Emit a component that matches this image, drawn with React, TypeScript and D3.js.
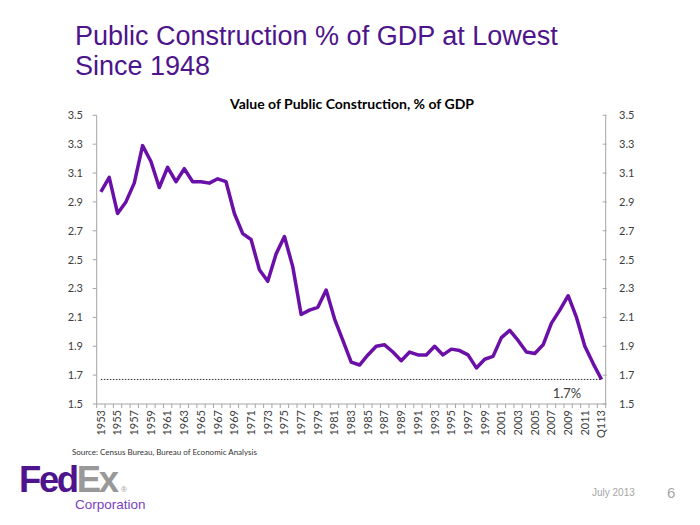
import React from "react";
import * as d3 from "d3";

const categories: string[] = [
  "1953","1954","1955","1956","1957","1958","1959","1960","1961","1962",
  "1963","1964","1965","1966","1967","1968","1969","1970","1971","1972",
  "1973","1974","1975","1976","1977","1978","1979","1980","1981","1982",
  "1983","1984","1985","1986","1987","1988","1989","1990","1991","1992",
  "1993","1994","1995","1996","1997","1998","1999","2000","2001","2002",
  "2003","2004","2005","2006","2007","2008","2009","2010","2011","2012","Q113",
];

const values: number[] = [
  2.97, 3.07, 2.82, 2.90, 3.03, 3.29, 3.18, 3.00, 3.14, 3.04,
  3.13, 3.04, 3.04, 3.03, 3.06, 3.04, 2.82, 2.68, 2.64, 2.43,
  2.35, 2.54, 2.66, 2.45, 2.12, 2.15, 2.17, 2.29, 2.09, 1.94,
  1.79, 1.77, 1.84, 1.90, 1.91, 1.86, 1.80, 1.86, 1.84, 1.84,
  1.90, 1.84, 1.88, 1.87, 1.84, 1.75, 1.81, 1.83, 1.96, 2.01,
  1.94, 1.86, 1.85, 1.91, 2.06, 2.15, 2.25, 2.10, 1.90, 1.78, 1.67,
];

const yTicks: number[] = [1.5, 1.7, 1.9, 2.1, 2.3, 2.5, 2.7, 2.9, 3.1, 3.3, 3.5];
const referenceValue = 1.67;
const referenceLabel = "1.7%";

const PURPLE = "#4d148c";
const LINE = "#6a0fa8";
const AXIS = "#a6a6a6";
const TEXT = "#404040";

export default function App() {
  const left = 96.7;
  const right = 605.7;
  const top = 115.3;
  const bottom = 404;

  const x = d3.scaleBand<string>().domain(categories).range([left, right]).padding(0);
  const y = d3.scaleLinear().domain([1.5, 3.5]).range([bottom, top]);
  const bw = x.bandwidth();
  const cx = (c: string) => (x(c) as number) + bw / 2;

  const line = d3
    .line<number>()
    .x((_, i) => cx(categories[i]))
    .y((v) => y(v));

  const font = "Lato, 'Open Sans', sans-serif";
  const arial = "'Liberation Sans', Arial, sans-serif";

  return (
    <svg width={700} height={525} style={{ position: "absolute", left: 0, top: 0, background: "#fff" }}>
      {/* Slide title */}
      <text x={75} y={45} fill={PURPLE} fontFamily={arial} fontSize={27}>
        Public Construction % of GDP at Lowest
      </text>
      <text x={75} y={75} fill={PURPLE} fontFamily={arial} fontSize={27}>
        Since 1948
      </text>

      {/* Chart title */}
      <text x={352} y={109} textAnchor="middle" fontFamily={font} fontWeight="bold" fontSize={14} fill="#000">
        Value of Public Construction,  % of GDP
      </text>

      {/* Axes lines */}
      <line x1={left} x2={left} y1={top} y2={bottom} stroke={AXIS} strokeWidth={1} />
      <line x1={right} x2={right} y1={top} y2={bottom} stroke={AXIS} strokeWidth={1} />
      <line x1={left} x2={right} y1={bottom} y2={bottom} stroke={AXIS} strokeWidth={1} />

      {/* Y ticks and labels */}
      {yTicks.map((t) => (
        <g key={t}>
          <line x1={left - 4} x2={left} y1={y(t)} y2={y(t)} stroke={AXIS} />
          <line x1={right - 3} x2={right + 1} y1={y(t)} y2={y(t)} stroke={AXIS} />
          <text x={83} y={y(t)} dy="0.35em" textAnchor="end" fontFamily={font} fontSize={11} fill={TEXT}>
            {t.toFixed(1)}
          </text>
          <text x={619} y={y(t)} dy="0.35em" textAnchor="start" fontFamily={font} fontSize={11} fill={TEXT}>
            {t.toFixed(1)}
          </text>
        </g>
      ))}

      {/* X ticks */}
      {categories.map((c) => (
        <line key={"t" + c} x1={x(c) as number} x2={x(c) as number} y1={bottom} y2={bottom + 4} stroke={AXIS} />
      ))}
      <line x1={right} x2={right} y1={bottom} y2={bottom + 4} stroke={AXIS} />

      {/* X labels */}
      {categories.map((c, i) =>
        i % 2 === 0 ? (
          <text
            key={"l" + c}
            transform={`translate(${cx(c)},${bottom + 6}) rotate(-90)`}
            textAnchor="end"
            dy="0.35em"
            fontFamily={font}
            fontSize={11}
            fill={TEXT}
          >
            {c}
          </text>
        ) : null
      )}

      {/* Reference dotted line */}
      <line
        x1={cx(categories[0])}
        x2={cx(categories[categories.length - 1])}
        y1={y(referenceValue)}
        y2={y(referenceValue)}
        stroke="#333"
        strokeWidth={1}
        strokeDasharray="1.5,1.5"
      />
      <text x={567} y={393} dy="0.35em" textAnchor="middle" fontFamily={font} fontSize={13} fill={TEXT}>
        {referenceLabel}
      </text>

      {/* Data line */}
      <path d={line(values) || ""} fill="none" stroke={LINE} strokeWidth={3.5} strokeLinejoin="round" />

      {/* Source */}
      <text x={72} y={455} fontFamily={font} fontSize={8} fill="#333">
        Source: Census Bureau, Bureau of Economic Analysis
      </text>

      {/* Logo */}
      <text x={19} y={492} fontFamily={arial} fontWeight="bold" fontSize={36.5} letterSpacing={-2.4}>
        <tspan fill={PURPLE}>Fed</tspan>
        <tspan fill="#999999">Ex</tspan>
      </text>
      <text x={124} y={492} textAnchor="middle" fontFamily={arial} fontSize={8} fill="#999999">
        ®
      </text>
      <text x={75} y={509} fontFamily={arial} fontSize={13.5} fill="#7a3fbf">
        Corporation
      </text>

      {/* Footer */}
      <text x={592} y={496} fontFamily={arial} fontSize={10} fill="#a6a6a6">
        July 2013
      </text>
      <text x={667} y={498} fontFamily={arial} fontSize={15} fill="#a6a6a6">
        6
      </text>
    </svg>
  );
}
